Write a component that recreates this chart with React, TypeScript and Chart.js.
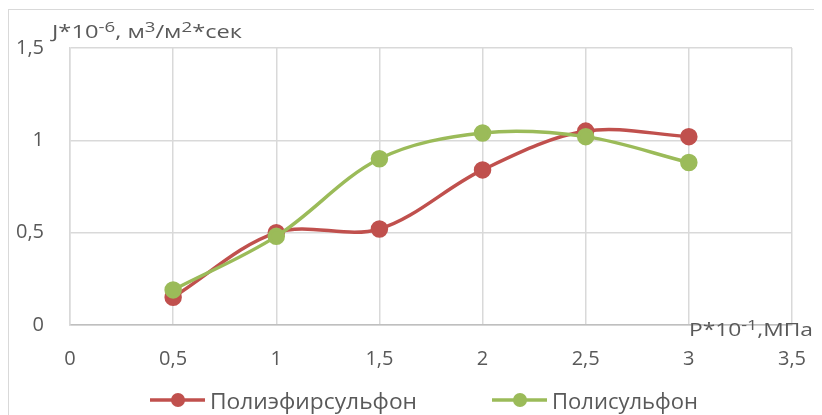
import React, { useEffect, useRef } from 'react';
import { Chart, registerables } from 'chart.js';

Chart.register(...registerables);

// ---- data ----
const pressure = [0.5, 1, 1.5, 2, 2.5, 3];
const pesValues = [0.15, 0.5, 0.52, 0.84, 1.05, 1.02];
const psfValues = [0.19, 0.48, 0.9, 1.04, 1.02, 0.88];
const seriesNames = ['Полиэфирсульфон', 'Полисульфон'];
const xTickLabels = ['0', '0,5', '1', '1,5', '2', '2,5', '3', '3,5'];
const yTickLabels = ['0', '0,5', '1', '1,5'];
const yTitleParts: [string, boolean][] = [
  ['J*10', false], ['-6', true], [', м', false], ['3', true], ['/м', false], ['2', true], ['*сек', false],
];
const xTitleParts: [string, boolean][] = [['P*10', false], ['-1', true], [',МПа', false]];

const FONT = '"Open Sans", sans-serif';
const TEXT = '#595959';
const RED = '#c0504d';
const GREEN = '#9bbb59';

function drawRich(
  ctx: CanvasRenderingContext2D,
  parts: [string, boolean][],
  x: number,
  y: number,
  size: number,
  supSize: number,
  raise: number,
  targetW: number,
) {
  let w = 0;
  for (const [t, sup] of parts) {
    ctx.font = `${sup ? supSize : size}px ${FONT}`;
    w += ctx.measureText(t).width;
  }
  const sx = targetW / w;
  ctx.save();
  ctx.translate(x, y);
  ctx.scale(sx, 1);
  ctx.textBaseline = 'alphabetic';
  ctx.textAlign = 'left';
  let cx = 0;
  for (const [t, sup] of parts) {
    ctx.font = `${sup ? supSize : size}px ${FONT}`;
    ctx.fillText(t, cx, sup ? -raise : 0);
    cx += ctx.measureText(t).width;
  }
  ctx.restore();
}

const extrasPlugin = {
  id: 'extras',
  afterDraw(chart: any) {
    const ctx: CanvasRenderingContext2D = chart.ctx;
    ctx.save();
    ctx.fillStyle = TEXT;
    drawRich(ctx, yTitleParts, 43, 28, 19, 15, 6, 190);
    drawRich(ctx, xTitleParts, 680, 326, 19, 15, 6, 124);

    // legend
    const items = [
      { x: 141, w: 207, ds: chart.data.datasets[0] },
      { x: 483, w: 146, ds: chart.data.datasets[1] },
    ];
    const ly = 390;
    for (const it of items) {
      ctx.strokeStyle = it.ds.borderColor;
      ctx.lineWidth = 3.5;
      ctx.beginPath();
      ctx.moveTo(it.x, ly);
      ctx.lineTo(it.x + 55, ly);
      ctx.stroke();
      ctx.fillStyle = it.ds.borderColor;
      ctx.beginPath();
      ctx.arc(it.x + 28, ly, 7, 0, Math.PI * 2);
      ctx.fill();
      ctx.fillStyle = TEXT;
      drawRich(ctx, [[it.ds.label, false]], it.x + 60, ly + 9, 21, 21, 0, it.w);
    }
    ctx.restore();
  },
};

export default function App() {
  const ref = useRef<HTMLCanvasElement | null>(null);

  useEffect(() => {
    if (!ref.current) return;
    const chart = new Chart(ref.current, {
      type: 'line',
      data: {
        datasets: [
          {
            label: seriesNames[0],
            data: pressure.map((p, i) => ({ x: p, y: pesValues[i] })),
            borderColor: RED,
            backgroundColor: RED,
            pointBackgroundColor: RED,
            pointBorderColor: RED,
            borderWidth: 3.5,
            pointRadius: 7,
            pointHoverRadius: 7,
            tension: 0.34,
            order: 2,
            clip: false as any,
          },
          {
            label: seriesNames[1],
            data: pressure.map((p, i) => ({ x: p, y: psfValues[i] })),
            borderColor: GREEN,
            backgroundColor: GREEN,
            pointBackgroundColor: GREEN,
            pointBorderColor: GREEN,
            borderWidth: 3.5,
            pointRadius: 7,
            pointHoverRadius: 7,
            tension: 0.34,
            order: 1,
            clip: false as any,
          },
        ],
      },
      options: {
        animation: false,
        responsive: false,
        devicePixelRatio: 1,
        layout: { padding: { top: 35, right: 0, left: 0, bottom: 0 } },
        plugins: {
          legend: { display: false },
          tooltip: { enabled: false },
        },
        scales: {
          x: {
            type: 'linear',
            min: 0,
            max: 3.5,
            ticks: {
              stepSize: 0.5,
              padding: 22,
              color: TEXT,
              font: { family: FONT, size: 20 },
              maxRotation: 0,
              autoSkip: false,
              callback: (_v: any, i: number) => xTickLabels[i],
            },
            grid: { color: '#d9d9d9', lineWidth: 1.5, drawTicks: false },
            border: { color: '#bfbfbf', width: 1.5 },
            afterFit: (s: any) => { s.height = 90; },
          },
          y: {
            min: 0,
            max: 1.5,
            ticks: {
              stepSize: 0.5,
              padding: 26,
              color: TEXT,
              font: { family: FONT, size: 20 },
              callback: (_v: any, i: number) => yTickLabels[i],
            },
            grid: { color: '#d9d9d9', lineWidth: 1.5, drawTicks: false },
            border: { color: '#d9d9d9', width: 1.5 },
            afterFit: (s: any) => { s.width = 61; },
          },
        },
      },
      plugins: [extrasPlugin],
    });
    return () => chart.destroy();
  }, []);

  return (
    <div style={{ position: 'relative', width: 814, height: 407 }}>
      <div
        style={{
          position: 'absolute',
          top: 1,
          left: 0,
          width: 830,
          height: 420,
          borderTop: '1px solid #d9d9d9',
          borderLeft: '1px solid #d9d9d9',
          boxSizing: 'border-box',
        }}
      >
        <canvas ref={ref} width={819} height={405} style={{ display: 'block' }} />
      </div>
    </div>
  );
}
